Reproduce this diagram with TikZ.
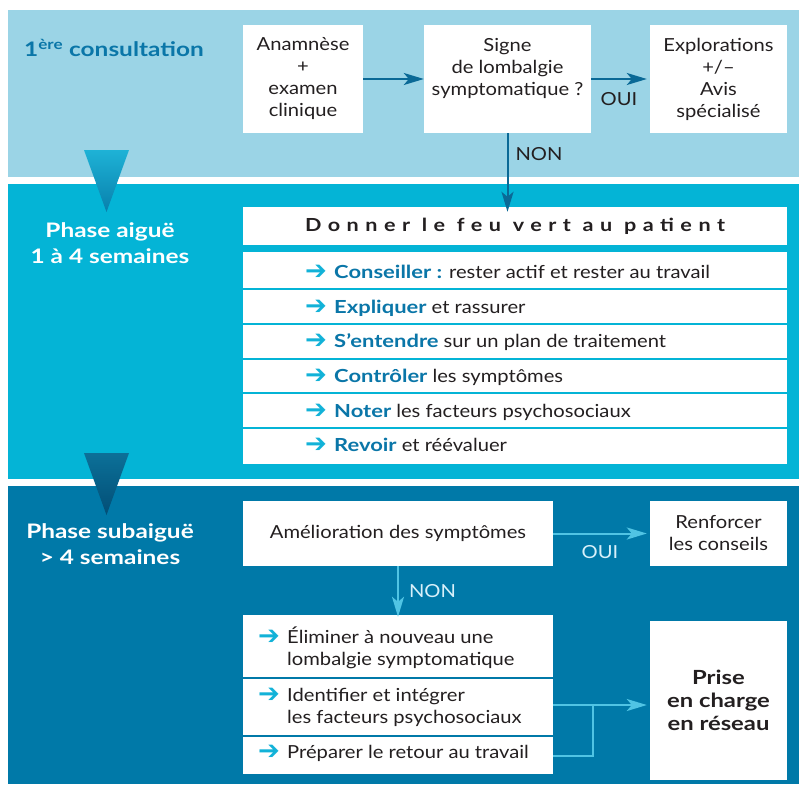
\documentclass[tikz,border=0pt]{standalone}
\usepackage{fontspec}
\setmainfont{Lato}[FakeStretch=1.12]
\newfontfamily\headfam{Lato}[FakeStretch=1.22]
\newfontfamily\arrowfont{DejaVu Sans}
\newfontfamily\spacedfont{Lato}[LetterSpace=36,FakeStretch=1.2]
\usetikzlibrary{arrows.meta}
\definecolor{bandA}{RGB}{155,212,230}
\definecolor{bandB}{RGB}{4,180,214}
\definecolor{bandC}{RGB}{0,121,168}
\definecolor{dkblue}{RGB}{10,118,168}
\definecolor{arrA}{RGB}{10,105,150}
\definecolor{arrC}{RGB}{80,196,228}
\definecolor{glyphC}{RGB}{18,178,216}
\definecolor{txt}{RGB}{35,31,32}
\definecolor{lightlbl}{RGB}{215,240,250}
\definecolor{triAtop}{RGB}{30,178,214}
\definecolor{triAbot}{RGB}{8,128,172}
\definecolor{triBtop}{RGB}{12,112,152}
\definecolor{triBbot}{RGB}{2,78,118}
\newcommand\regfont{\fontsize{18}{22}\selectfont}
\newcommand\headfont{\fontsize{20}{26}\selectfont\headfam\bfseries}
\newcommand\rarr{\makebox[29pt][l]{\raisebox{-1pt}{\fontsize{26}{22}\arrowfont\color{glyphC}➔}}}
\newcommand\kw[1]{{\headfam\bfseries\color{dkblue}#1}}
\begin{document}
\begin{tikzpicture}[x=1pt,y=-1pt,
 every node/.style={inner sep=0pt, text=txt},
 head/.style={font=\headfont},
 box/.style={fill=white, align=center, font=\regfont},
 rowbox/.style={fill=white, minimum width=544pt},
 rowboxb/.style={fill=white, minimum width=310pt},
 rowtxt/.style={anchor=base west, align=left, font=\regfont},
 darr/.style={draw=arrA, line width=2pt, -{Stealth[length=20pt,width=12pt,inset=5pt]}},
 carr/.style={draw=arrC, line width=2pt, -{Stealth[length=20pt,width=12pt,inset=5pt]}},
 cline/.style={draw=arrC, line width=2pt},
 lbl/.style={font=\regfont}]
\useasboundingbox (0,0) rectangle (799,784);
\fill[white] (0,0) rectangle (799,784);
\fill[bandA] (8,10) rectangle (799,177);
\fill[bandB] (8,184) rectangle (799,479);
\fill[bandC] (8,486) rectangle (799,784);
% phase triangles
\shade[top color=triAtop, bottom color=triAbot] (84,150) -- (129,150) -- (106.5,212) -- cycle;
\shade[top color=triBtop, bottom color=triBbot] (84,453) -- (129,453) -- (106.5,515) -- cycle;
% band 1
\node[font={\fontsize{20}{24}\selectfont\headfam\bfseries}, text=dkblue, anchor=west] (t1) at (24,48) {1\textsuperscript{ère} consultation};
\node[box, minimum width=120pt, minimum height=108pt] (ana) at (303,79) {Anamnèse\\+\\examen\\clinique};
\node[box, minimum width=167pt, minimum height=108pt] (sig) at (507.5,79) {Signe\\de lombalgie\\symptomatique ?\\\vphantom{clinique}};
\node[box, minimum width=137pt, minimum height=108pt] (exp) at (718.5,79) {Explorations\\+/–\\Avis\\spécialisé};
\draw[darr] (ana.east) -- (sig.west);
\draw[darr] (sig.east) -- ([xshift=-3pt]exp.west) node[midway, below=12pt, lbl] (oui1) {OUI};
% band 2
\node[head, text=white, align=center] (t2) at (110,243) {Phase aiguë\\1 à 4 semaines};
\node[fill=white, minimum width=544pt, minimum height=38pt, font={\fontsize{18}{22}\spacedfont\bfseries}] (don) at (515,226) {Donner le feu vert au patient};
\draw[darr] (sig.south) -- ([yshift=-5pt]sig.south |- don.north) node[pos=0.27, right=7pt, lbl] (non1) {NON};
\node[rowbox, minimum height=36pt] (r1) at (515,270) {};
\node[rowbox, minimum height=33pt] (r2) at (515,306.5) {};
\node[rowbox, minimum height=33pt] (r3) at (515,341.5) {};
\node[rowbox, minimum height=32pt] (r4) at (515,376) {};
\node[rowbox, minimum height=33pt] (r5) at (515,410.5) {};
\node[rowbox, minimum height=35pt] (r6) at (515,446.5) {};
\node[rowtxt] (r1t) at (305,278) {\rarr\kw{Conseiller :} rester actif et rester au travail};
\node[rowtxt] (r2t) at (305,313) {\rarr\kw{Expliquer} et rassurer};
\node[rowtxt] (r3t) at (305,347) {\rarr\kw{S’entendre} sur un plan de traitement};
\node[rowtxt] (r4t) at (305,382) {\rarr\kw{Contrôler} les symptômes};
\node[rowtxt] (r5t) at (305,417) {\rarr\kw{Noter} les facteurs psychosociaux};
\node[rowtxt] (r6t) at (305,451) {\rarr\kw{Revoir} et réévaluer};
% band 3
\node[head, text=white, align=center] (t3) at (110,544) {Phase subaiguë\\> 4 semaines};
\node[box, minimum width=310pt, minimum height=65pt] (amel) at (398,533.5) {Amélioration des symptômes};
\node[box, minimum width=137pt, minimum height=65pt] (ren) at (718.5,533.5) {Renforcer\\les conseils};
\node[rowboxb, minimum height=62pt] (l2a) at (398,646) {};
\node[rowboxb, minimum height=56pt] (l2b) at (398,707) {};
\node[rowboxb, minimum height=37pt] (l2c) at (398,755.5) {};
\node[rowtxt] (l2at) at (258,665) {\rarr Éliminer à nouveau une\\\hspace*{29pt}lombalgie symptomatique};
\node[rowtxt] (l2bt) at (258,723) {\rarr Identifier et intégrer\\\hspace*{29pt}les facteurs psychosociaux};
\node[rowtxt] (l2ct) at (258,758) {\rarr Préparer le retour au travail};
\node[box, minimum width=137pt, minimum height=159pt, font={\fontsize{19.5}{23}\selectfont\headfam\bfseries}] (prise) at (718.5,700.5) {Prise\\en charge\\en réseau};
\draw[carr] (amel.east) -- ([xshift=-3pt]ren.west) node[midway, below=11pt, lbl, text=lightlbl] (oui2) {OUI};
\draw[carr] (amel.south) -- ([yshift=-2pt]amel.south |- l2a.north) node[midway, right=10pt, lbl, text=lightlbl] (non2) {NON};
\coordinate (jn) at (593,705);
\draw[carr] (l2b.east |- jn) -- ([xshift=-3pt]jn -| prise.west);
\draw[cline] (l2c.east) -| (jn);
\end{tikzpicture}
\end{document}
